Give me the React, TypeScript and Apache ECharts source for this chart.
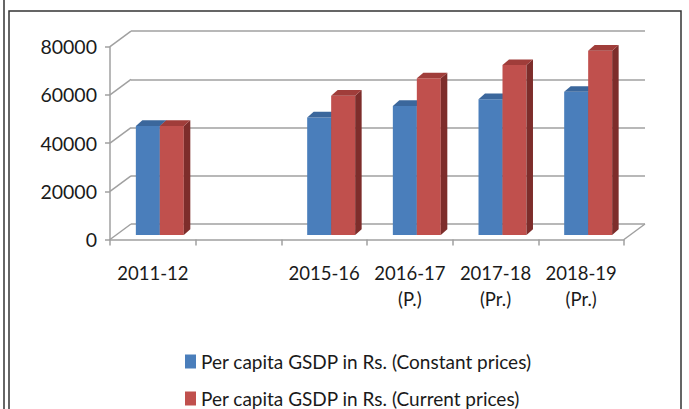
import React, { useEffect, useRef } from 'react';
import * as echarts from 'echarts';

const categories = ['2011-12', '', '2015-16', '2016-17\n(P.)', '2017-18\n(Pr.)', '2018-19\n(Pr.)'];
const constantPrices: (number | null)[] = [45200, null, 48800, 53500, 56300, 59400];
const currentPrices: (number | null)[] = [45200, null, 57800, 65000, 70500, 76500];
const yTicks = [0, 20000, 40000, 60000, 80000];
const seriesNames = ['Per capita GSDP in Rs. (Constant prices)', 'Per capita GSDP in Rs. (Current prices)'];

const FONT = 'Lato';
const TEXT = '#1a1a1a';
const GRIDC = '#a0a0a0';
const FRONT = { left: 110, top: 46.7, right: 65, bottom: 169.5 };
const WALL = { dx: 21, dy: -15.5 };
const BAR_OFF = { dx: 7, dy: -4.5 };
const BAR_DEPTH = { dx: 6.5, dy: -5.7 };
const BAR_FRAC = 0.28;

const palettes = [
  { front: '#4a7ebb', top: '#3b679c', side: '#2f5580' },
  { front: '#c0504d', top: '#a03d3a', side: '#7d2d2b' },
];

function barSeries(s: number, values: (number | null)[]) {
  const p = palettes[s];
  const data = values
    .map((v, i) => (v == null ? null : [i, v]))
    .filter((d) => d !== null);
  return {
    type: 'custom',
    name: seriesNames[s],
    xAxisIndex: 0,
    yAxisIndex: 0,
    z: 5 + s,
    itemStyle: { color: p.front },
    encode: { x: 0, y: 1 },
    data,
    renderItem: (params: any, api: any) => {
      const i = api.value(0);
      const v = api.value(1);
      const base = api.coord([i, 0]);
      const tp = api.coord([i, v]);
      const catW = api.size([1, 0])[0];
      const bw = catW * BAR_FRAC;
      const x0 = base[0] + BAR_OFF.dx + (s - 1) * bw;
      const x1 = x0 + bw;
      const yb = base[1] + BAR_OFF.dy;
      const yt = tp[1] + BAR_OFF.dy;
      const dx = BAR_DEPTH.dx;
      const dy = BAR_DEPTH.dy;
      return {
        type: 'group',
        children: [
          { type: 'polygon', shape: { points: [[x0, yb], [x1, yb], [x1, yt], [x0, yt]] }, style: { fill: p.front } },
          { type: 'polygon', shape: { points: [[x1, yb], [x1 + dx, yb + dy], [x1 + dx, yt + dy], [x1, yt]] }, style: { fill: p.side } },
          { type: 'polygon', shape: { points: [[x0, yt], [x1, yt], [x1 + dx, yt + dy], [x0 + dx, yt + dy]] }, style: { fill: p.top } },
        ],
      };
    },
  };
}

function legendFor(name: string, top: number) {
  return {
    orient: 'vertical',
    left: 180,
    top,
    itemWidth: 11,
    itemHeight: 14,
    itemGap: 0,
    icon: 'rect',
    data: [name],
    textStyle: { color: TEXT, fontSize: 19, fontFamily: FONT },
  };
}

export default function App() {
  const ref = useRef<HTMLDivElement>(null);
  useEffect(() => {
    if (!ref.current) return;
    const chart = echarts.init(ref.current, undefined, { renderer: 'svg' });
    const option: any = {
      animation: false,
      backgroundColor: '#ffffff',
      textStyle: { fontFamily: FONT },
      grid: [
        { left: FRONT.left, top: FRONT.top, right: FRONT.right, bottom: FRONT.bottom },
        {
          left: FRONT.left + WALL.dx,
          top: FRONT.top + WALL.dy,
          right: FRONT.right - WALL.dx,
          bottom: FRONT.bottom - WALL.dy,
        },
      ],
      xAxis: [
        {
          type: 'category',
          gridIndex: 0,
          data: categories,
          axisLine: { show: true, lineStyle: { color: GRIDC, width: 1.5 } },
          axisTick: { show: true, length: 6, lineStyle: { color: GRIDC, width: 1.5 } },
          axisLabel: {
            color: TEXT,
            fontSize: 18.5,
            fontFamily: FONT,
            lineHeight: 26,
            margin: 20,
            interval: 0,
          },
          splitLine: { show: false },
        },
        { type: 'category', gridIndex: 1, data: categories, show: false },
      ],
      yAxis: [
        {
          type: 'value',
          gridIndex: 0,
          min: 0,
          max: 80000,
          interval: 20000,
          axisLine: { show: true, lineStyle: { color: GRIDC, width: 1.5 } },
          axisTick: { show: true, length: 5, lineStyle: { color: GRIDC, width: 1.5 } },
          axisLabel: {
            color: TEXT,
            fontSize: 19.5,
            fontFamily: FONT,
            margin: 13,
            formatter: (v: number) => String(v),
          },
          splitLine: { show: false },
        },
        {
          type: 'value',
          gridIndex: 1,
          min: 0,
          max: 80000,
          interval: 20000,
          axisLine: { show: false },
          axisTick: { show: false },
          axisLabel: { show: false },
          splitLine: { show: true, lineStyle: { color: GRIDC, width: 1.5 } },
        },
      ],
      legend: [legendFor(seriesNames[0], 347), legendFor(seriesNames[1], 384)],
      graphic: [
        { type: 'line', shape: { x1: 4, y1: 0, x2: 4, y2: 409 }, style: { stroke: '#333', lineWidth: 1.5 } },
        { type: 'rect', shape: { x: 9, y: 11, width: 672, height: 420 }, style: { stroke: '#333', lineWidth: 1.5, fill: 'none' } },
      ],
      series: [
        {
          type: 'custom',
          name: 'wall',
          xAxisIndex: 0,
          yAxisIndex: 0,
          silent: true,
          z: 1,
          data: yTicks.map((v) => [0, v]),
          encode: { x: 0, y: 1 },
          renderItem: (params: any, api: any) => {
            const cs = params.coordSys;
            const y = api.coord([0, api.value(1)])[1];
            const children: any[] = [
              {
                type: 'line',
                shape: { x1: cs.x, y1: y, x2: cs.x + WALL.dx, y2: y + WALL.dy },
                style: { stroke: GRIDC, lineWidth: 1.5 },
              },
            ];
            if (api.value(1) === 0) {
              children.push({
                type: 'line',
                shape: { x1: cs.x + cs.width, y1: y, x2: cs.x + cs.width + WALL.dx, y2: y + WALL.dy },
                style: { stroke: GRIDC, lineWidth: 1.5 },
              });
            }
            return { type: 'group', children };
          },
        },
        barSeries(0, constantPrices),
        barSeries(1, currentPrices),
      ],
    };
    chart.setOption(option);
    return () => chart.dispose();
  }, []);
  return <div ref={ref} style={{ position: 'fixed', left: 0, top: 0, width: 689, height: 409 }} />;
}
